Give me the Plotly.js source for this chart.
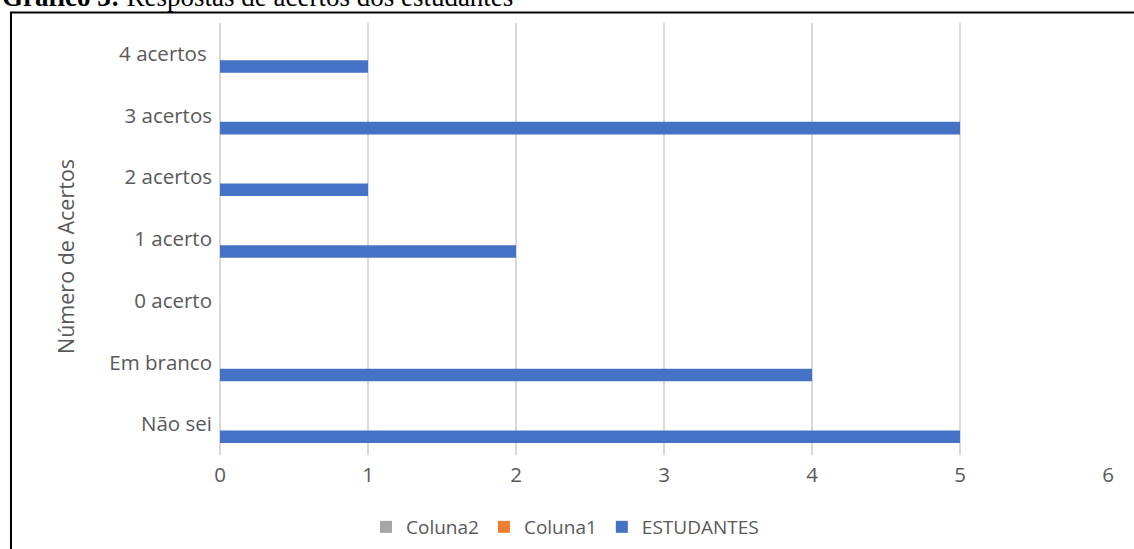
<!DOCTYPE html>
<html>
<head>
<meta charset="utf-8">
<script src="https://cdn.plot.ly/plotly-3.0.1.min.js"></script>
<style>
  html, body { margin: 0; padding: 0; background: #ffffff; }
  #chart { width: 1134px; height: 549px; }
</style>
</head>
<body>
<div id="chart"></div>
<script>
// Categories, bottom to top
const categorias = ["Não sei", "Em branco", "0 acerto", "1 acerto", "2 acertos", "3 acertos", "4 acertos\u00a0"];
// Number of students per answer category
const estudantes = [5, 4, 0, 2, 1, 5, 1];
// Empty helper columns kept in the spreadsheet
const coluna1 = [null, null, null, null, null, null, null];
const coluna2 = [null, null, null, null, null, null, null];
const xTicks = [0, 1, 2, 3, 4, 5, 6];

const fam = "Open Sans, Lato, sans-serif";
const tickFont = { family: fam, size: 20.5, color: "#595959" };

const traces = [
  { type: "bar", orientation: "h", name: "ESTUDANTES", y: categorias, x: estudantes,
    marker: { color: "#4472C4" }, hoverinfo: "x+y" },
  { type: "bar", orientation: "h", name: "Coluna1", y: categorias, x: coluna1,
    marker: { color: "#ED7D31" }, hoverinfo: "x+y" },
  { type: "bar", orientation: "h", name: "Coluna2", y: categorias, x: coluna2,
    marker: { color: "#A5A5A5" }, hoverinfo: "x+y" }
];

// Plot area in pixels: left 220, right 1108, top 23, bottom 455
const L = 220, R = 1108, T = 23, B = 455;
const W = R - L, H = B - T;
const px = v => (v - L) / W;
const py = v => (B - v) / H;

const layout = {
  width: 1134, height: 549,
  margin: { l: L, r: 1134 - R, t: T, b: 549 - B, pad: 0, autoexpand: false },
  paper_bgcolor: "#ffffff", plot_bgcolor: "#ffffff",
  barmode: "group",
  bargap: 0.39,
  bargroupgap: 0,
  showlegend: true,
  legend: {
    orientation: "h", traceorder: "reversed",
    x: px(366), xanchor: "left", y: py(527), yanchor: "middle",
    font: { family: fam, size: 19, color: "#595959" },
    itemwidth: 30
  },
  xaxis: {
    range: [0, 6], tickvals: xTicks, ticktext: xTicks.map(String),
    showgrid: true, gridcolor: "#d9d9d9", gridwidth: 1.3,
    zeroline: true, zerolinecolor: "#d9d9d9", zerolinewidth: 1.3,
    showline: false, ticks: "", ticklabelstandoff: 5,
    tickfont: tickFont, fixedrange: true, automargin: false
  },
  yaxis: {
    type: "category", categoryorder: "array", categoryarray: categorias,
    showgrid: false, zeroline: false, showline: false, ticks: "",
    ticklabelstandoff: 7,
    tickfont: tickFont, fixedrange: true, automargin: false
  },
  annotations: [
    { xref: "paper", yref: "paper", x: px(0), y: py(-3), xanchor: "left", yanchor: "middle",
      showarrow: false, align: "left",
      text: "<b>Gráfico 3:</b> Respostas de acertos dos estudantes",
      font: { family: "Liberation Serif, Times New Roman, serif", size: 27, color: "#000000" } },
    // value-axis caption
    { xref: "paper", yref: "paper", x: px(65), y: py(257), xanchor: "center", yanchor: "middle",
      showarrow: false, textangle: -90, text: "Número de Acertos",
      font: { family: fam, size: 21.5, color: "#595959" } }
  ],
  shapes: [
    // chart frame
    { type: "rect", xref: "paper", yref: "paper", layer: "above",
      x0: px(11), x1: px(1160), y0: py(600), y1: py(12.5),
      line: { color: "#000000", width: 2 }, fillcolor: "rgba(0,0,0,0)" }
  ]
};

Plotly.newPlot("chart", traces, layout, { displayModeBar: false, staticPlot: true });
</script>
</body>
</html>
